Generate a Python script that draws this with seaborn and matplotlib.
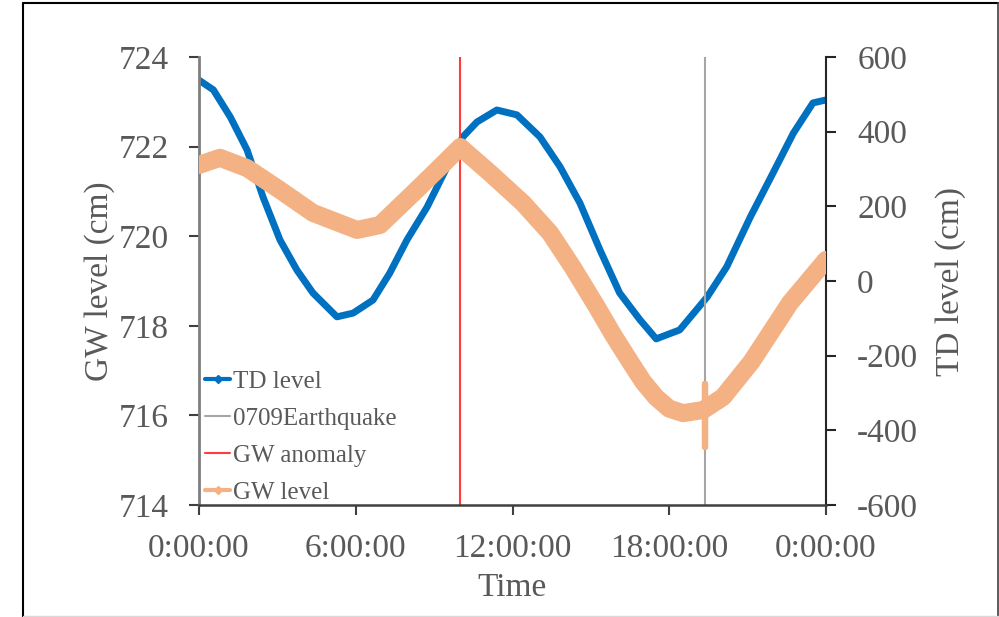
import numpy as np
import pandas as pd
import matplotlib
matplotlib.use("Agg")
import matplotlib.pyplot as plt
from matplotlib.lines import Line2D
import seaborn as sns

# ---------------- data ----------------
# GW level (cm), left axis; time in hours
gw_time = [0.0, 0.8, 1.84, 3.1, 4.36, 6.05, 6.93, 8.2, 9.22, 10.0,
           11.14, 12.4, 13.44, 14.3, 15.23, 15.85, 16.5, 17.0, 17.5,
           18.0, 18.53, 19.3, 20.06, 21.15, 22.62, 23.77, 24.0]
gw_level = [721.59, 721.75, 721.52, 721.03, 720.52, 720.14, 720.25, 720.96,
            721.54, 721.99, 721.41, 720.74, 720.07, 719.31, 718.42, 717.8,
            717.2, 716.75, 716.4, 716.15, 716.05, 716.12, 716.41, 717.2,
            718.51, 719.31, 719.47]
# short spike in GW level at the earthquake time
spike_time = [19.37, 19.37, 19.37, 19.37]
spike_level = [716.2, 716.7, 715.3, 716.2]

# TD level (cm), right axis
td_time = [0.0, 0.55, 1.2, 1.84, 2.45, 3.1, 3.75, 4.36, 5.28, 5.9, 6.66,
           7.3, 7.96, 8.73, 9.5, 10.1, 10.64, 11.4, 12.17, 13.05, 13.82,
           14.58, 15.35, 16.1, 16.88, 17.5, 18.4, 19.45, 20.2, 21.1, 21.97,
           22.75, 23.5, 24.0]
td_level = [538, 512, 439, 351, 225, 110, 29, -32, -96, -86, -51, 21, 110,
            198, 306, 386, 426, 458, 445, 386, 306, 209, 83, -32, -104, -155,
            -131, -43, 38, 171, 289, 396, 477, 485]

quake_time = 19.37
anomaly_time = 10.0

x_ticks = [0, 6, 12, 18, 24]
x_tick_labels = ["0:00:00", "6:00:00", "12:00:00", "18:00:00", "0:00:00"]
left_ticks = [714, 716, 718, 720, 722, 724]
right_ticks = [-600, -400, -200, 0, 200, 400, 600]

# ---------------- style ----------------
sns.set_theme(style="white")
plt.rcParams["font.family"] = ["Liberation Serif", "DejaVu Serif"]
TXT = "#595959"
BLUE = "#0070C0"
ORANGE = "#F4B183"
RED = "#FF3B3B"
GRAY = "#A6A6A6"

fig = plt.figure(figsize=(9.99, 6.17), dpi=100)
ax = fig.add_axes([199 / 999, 1 - 505 / 617, 627 / 999, 448 / 617])
ax2 = ax.twinx()
ax.set_zorder(ax2.get_zorder() + 1)
ax.patch.set_visible(False)

gw_df = pd.DataFrame({"t": gw_time, "v": gw_level})
spike_df = pd.DataFrame({"t": spike_time, "v": spike_level})
td_df = pd.DataFrame({"t": td_time, "v": td_level})

sns.lineplot(data=td_df, x="t", y="v", ax=ax2, color=BLUE, lw=5,
             estimator=None, sort=False, legend=False)
sns.lineplot(data=gw_df, x="t", y="v", ax=ax, color=ORANGE, lw=13,
             estimator=None, sort=False, legend=False, zorder=3,
             solid_capstyle="round")
ax.axvline(anomaly_time, color=RED, lw=1.5, zorder=2)
ax.axvline(quake_time, color=GRAY, lw=1.5, zorder=2)
sns.lineplot(data=spike_df, x="t", y="v", ax=ax, color=ORANGE, lw=4.5,
             estimator=None, sort=False, legend=False, zorder=4)

ax.set_xlim(0, 24)
ax.set_ylim(714, 724)
ax2.set_ylim(-600, 600)
ax.set_xticks(x_ticks)
ax.set_xticklabels(x_tick_labels)
ax.set_yticks(left_ticks)
ax2.set_yticks(right_ticks)
ax2.set_yticklabels([str(v) for v in right_ticks])

for a in (ax, ax2):
    a.grid(False)
    a.spines["top"].set_visible(False)
ax.spines["right"].set_visible(False)
ax2.spines["left"].set_visible(False)
ax2.spines["bottom"].set_visible(False)
ax.spines["left"].set_color("#7F7F7F")
ax.spines["left"].set_linewidth(2)
ax.spines["bottom"].set_color("#404040")
ax.spines["bottom"].set_linewidth(1.8)
ax2.spines["right"].set_color("#262626")
ax2.spines["right"].set_linewidth(1.5)

ax.tick_params(axis="y", direction="out", length=7.5, width=1.5,
               color="#404040", labelsize=24, labelcolor=TXT, pad=14, left=True)
ax.tick_params(axis="x", direction="out", length=7.5, width=1.5,
               color="#404040", labelsize=24, labelcolor=TXT, pad=13, bottom=True)
ax2.tick_params(axis="y", direction="out", length=7.5, width=1.5,
                color="#262626", labelsize=24, labelcolor=TXT, pad=15, right=True)

ax.set_xlabel("Time", fontsize=24, color=TXT, labelpad=6)
ax.set_ylabel("GW level (cm)", fontsize=24, color=TXT, labelpad=3)
ax2.set_ylabel("TD level (cm)", fontsize=24, color=TXT, labelpad=12)

handles = [
    Line2D([], [], color=BLUE, lw=3, marker="D", ms=4),
    Line2D([], [], color=GRAY, lw=1.5),
    Line2D([], [], color=RED, lw=1.5),
    Line2D([], [], color=ORANGE, lw=3, marker="D", ms=4),
]
labels = ["TD level", "0709Earthquake", "GW anomaly", "GW level"]
leg = ax.legend(handles, labels, loc="upper left", bbox_to_anchor=(0.01, 0.30),
                frameon=False, fontsize=18, handlelength=1.0, handletextpad=0.1,
                labelspacing=0.58, borderpad=0, borderaxespad=0)
for t in leg.get_texts():
    t.set_color(TXT)

# outer frame of the picture
W, H = 999, 617
def fl(x0, y0, x1, y1, c="black", lw=1.5):
    fig.add_artist(Line2D([x0 / W, x1 / W], [1 - y0 / H, 1 - y1 / H],
                          color=c, lw=lw, transform=fig.transFigure))
fl(22.5, 2.5, 22.5, 617, lw=1.5)
fl(22.5, 2.5, 997.5, 2.5, lw=1.5)
fl(997.5, 2.5, 997.5, 617, c="#404040", lw=1.2)
fl(22.5, 615.5, 997.5, 615.5, c="#D9D9D9", lw=1)

fig.savefig("out.png", dpi=100)
